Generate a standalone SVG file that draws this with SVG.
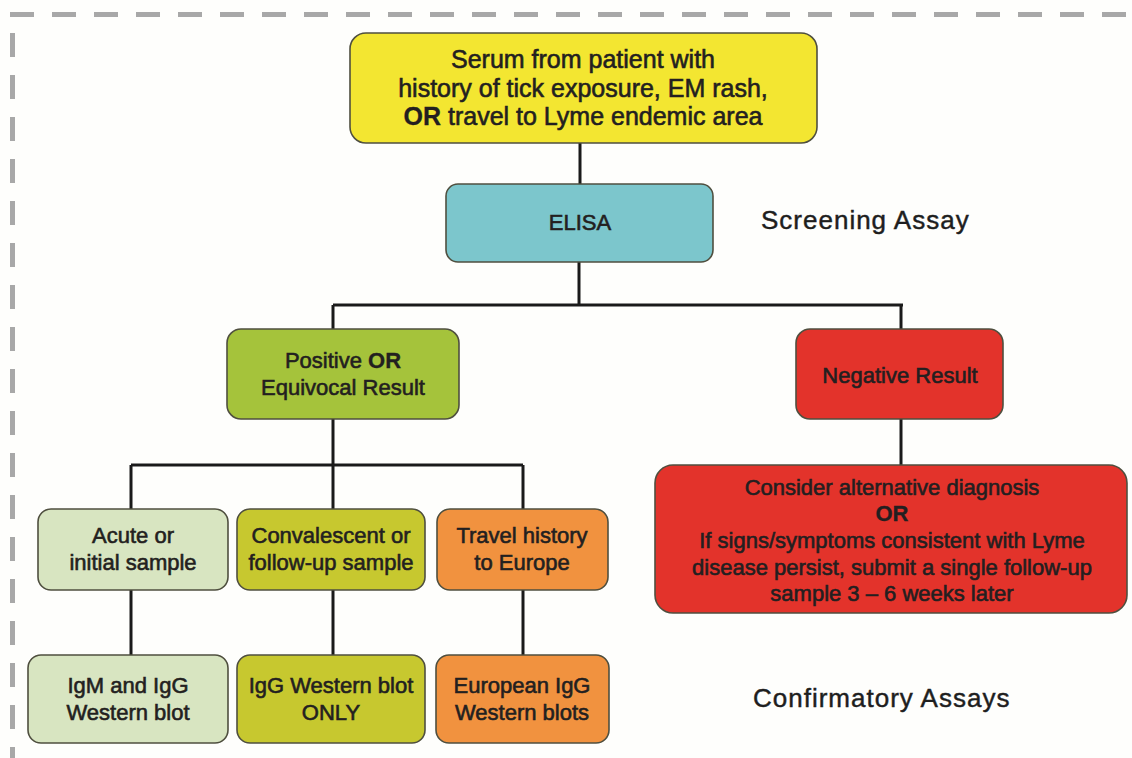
<svg xmlns="http://www.w3.org/2000/svg" width="1132" height="758" viewBox="0 0 1132 758">
<style>
.bg{fill:#FEFEFC}
.border{fill:none;stroke:#A8A8A8;stroke-width:5;stroke-dasharray:24 18}
.box{stroke:#4F4F3F;stroke-width:1.6}
.t{font-family:"Liberation Sans",Arial,sans-serif;font-size:22px;fill:#231F20;stroke:#231F20;stroke-width:0.6;text-anchor:middle}
.big{font-size:25px}
.b{font-weight:bold;stroke-width:0.3}
.lab{font-family:"Liberation Sans",Arial,sans-serif;font-size:26px;letter-spacing:1px;fill:#1E1E1E;stroke:#1E1E1E;stroke-width:0.45}
.c{fill:none;stroke:#1A1A1A;stroke-width:3}
</style>
<rect class="bg" x="0" y="0" width="1132" height="758"/>
<line class="border" x1="10" y1="14.5" x2="1132" y2="14.5"/>
<line class="border" x1="12.5" y1="33" x2="12.5" y2="758"/>
<g id="connectors">
<path class="c" d="M580 143 V184"/>
<path class="c" d="M579 262 V305 M333 305 H903 M333 305 V329 M901 305 V329"/>
<path class="c" d="M333 419 V465 M131 465 H523 M131 465 V509 M333 465 V509 M523 465 V509"/>
<path class="c" d="M901 419 V465"/>
<path class="c" d="M131 590 V655 M333 590 V655 M523 590 V655"/>
</g>
<g id="serum">
<rect class="box" x="350" y="33" width="467" height="110" rx="16" fill="#F3E631"/>
<text class="t big" x="583" y="68">Serum from patient with</text>
<text class="t big" x="583" y="97">history of tick exposure, EM rash,</text>
<text class="t big" x="583" y="125"><tspan class="b">OR</tspan> travel to Lyme endemic area</text>
</g>
<g id="elisa">
<rect class="box" x="446" y="184" width="267" height="78" rx="12" fill="#7CC6CC"/>
<text class="t" x="580" y="230">ELISA</text>
</g>
<g id="screening">
<text class="lab" x="761" y="229">Screening Assay</text>
</g>
<g id="positive">
<rect class="box" x="227" y="329" width="232" height="90" rx="14" fill="#A5C33B"/>
<text class="t" x="343" y="368">Positive <tspan class="b">OR</tspan></text>
<text class="t" x="343" y="395">Equivocal Result</text>
</g>
<g id="negative">
<rect class="box" x="796" y="329" width="207" height="90" rx="14" fill="#E3332B"/>
<text class="t" x="900" y="383">Negative Result</text>
</g>
<g id="consider">
<rect class="box" x="655" y="465" width="472" height="148" rx="18" fill="#E3332B"/>
<text class="t" x="892" y="495">Consider alternative diagnosis</text>
<text class="t b" x="892" y="521">OR</text>
<text class="t" x="892" y="548">If signs/symptoms consistent with Lyme</text>
<text class="t" x="892" y="575">disease persist, submit a single follow-up</text>
<text class="t" x="892" y="601">sample 3 – 6 weeks later</text>
</g>
<g id="acute">
<rect class="box" x="38" y="509" width="190" height="81" rx="13" fill="#D8E5C1"/>
<text class="t" x="133" y="543">Acute or</text>
<text class="t" x="133" y="570">initial sample</text>
</g>
<g id="convalescent">
<rect class="box" x="237" y="509" width="188" height="81" rx="13" fill="#C7C82F"/>
<text class="t" x="331" y="543">Convalescent or</text>
<text class="t" x="331" y="570">follow-up sample</text>
</g>
<g id="travel">
<rect class="box" x="437" y="509" width="171" height="81" rx="13" fill="#F1923F"/>
<text class="t" x="522" y="543">Travel history</text>
<text class="t" x="522" y="570">to Europe</text>
</g>
<g id="igm">
<rect class="box" x="28" y="655" width="200" height="88" rx="13" fill="#D8E5C1"/>
<text class="t" x="128" y="693">IgM and IgG</text>
<text class="t" x="128" y="720">Western blot</text>
</g>
<g id="igg">
<rect class="box" x="237" y="655" width="188" height="88" rx="13" fill="#C7C82F"/>
<text class="t" x="331" y="693">IgG Western blot</text>
<text class="t" x="331" y="720">ONLY</text>
</g>
<g id="european">
<rect class="box" x="436" y="655" width="173" height="88" rx="13" fill="#F1923F"/>
<text class="t" x="522" y="693">European IgG</text>
<text class="t" x="522" y="720">Western blots</text>
</g>
<g id="confirmatory">
<text class="lab" x="753" y="707">Confirmatory Assays</text>
</g>
</svg>
